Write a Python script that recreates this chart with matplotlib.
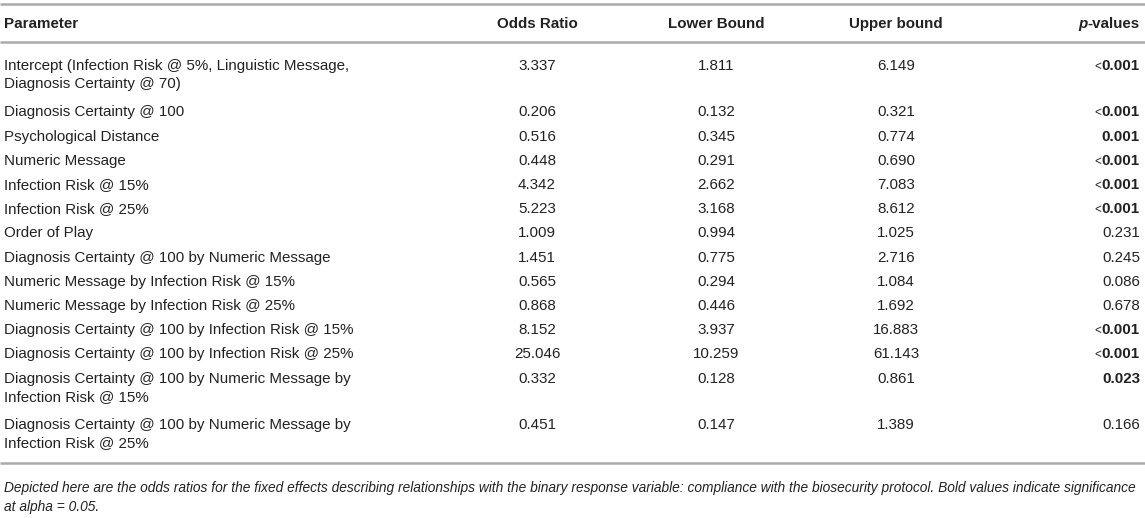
import matplotlib
matplotlib.use("Agg")
import matplotlib.pyplot as plt

plt.rcParams['font.family'] = ['Liberation Sans', 'DejaVu Sans']

# ---- data ----
params = [
    "Intercept (Infection Risk @ 5%, Linguistic Message,\nDiagnosis Certainty @ 70)",
    "Diagnosis Certainty @ 100",
    "Psychological Distance",
    "Numeric Message",
    "Infection Risk @ 15%",
    "Infection Risk @ 25%",
    "Order of Play",
    "Diagnosis Certainty @ 100 by Numeric Message",
    "Numeric Message by Infection Risk @ 15%",
    "Numeric Message by Infection Risk @ 25%",
    "Diagnosis Certainty @ 100 by Infection Risk @ 15%",
    "Diagnosis Certainty @ 100 by Infection Risk @ 25%",
    "Diagnosis Certainty @ 100 by Numeric Message by\nInfection Risk @ 15%",
    "Diagnosis Certainty @ 100 by Numeric Message by\nInfection Risk @ 25%",
]
odds = ["3.337", "0.206", "0.516", "0.448", "4.342", "5.223", "1.009",
        "1.451", "0.565", "0.868", "8.152", "25.046", "0.332", "0.451"]
lower = ["1.811", "0.132", "0.345", "0.291", "2.662", "3.168", "0.994",
         "0.775", "0.294", "0.446", "3.937", "10.259", "0.128", "0.147"]
upper = ["6.149", "0.321", "0.774", "0.690", "7.083", "8.612", "1.025",
         "2.716", "1.084", "1.692", "16.883", "61.143", "0.861", "1.389"]
pvals = ["<0.001", "<0.001", "0.001", "<0.001", "<0.001", "<0.001", "0.231",
         "0.245", "0.086", "0.678", "<0.001", "<0.001", "0.023", "0.166"]
significant = [True, True, True, True, True, True, False,
               False, False, False, True, True, True, False]
headers = ["Parameter", "Odds Ratio", "Lower Bound", "Upper bound", "p-values"]
footnote = ["Depicted here are the odds ratios for the fixed effects describing relationships with the binary response variable: "
            "compliance with the biosecurity protocol. Bold values indicate significance",
            "at alpha = 0.05."]

W, H = 1145, 518
fig = plt.figure(figsize=(W / 100, H / 100), dpi=100)
ax = fig.add_axes([0, 0, 1, 1])
ax.set_xlim(0, W)
ax.set_ylim(H, 0)
ax.axis('off')

TXT = '#222222'
LINE = '#ababab'
FS = 10.9
FS_NOTE = 9.9
CAP = 0.716 * FS * 100 / 72 / 2        # half cap height in px
CAP_NOTE = 0.716 * FS_NOTE * 100 / 72 / 2

col_x = [4, 537, 716, 896, 1140]

# rules
for y in (4, 42, 463):
    ax.plot([0, W], [y, y], color=LINE, lw=1.8, solid_capstyle='butt')

fig.canvas.draw()
r = fig.canvas.get_renderer()
inv = ax.transData.inverted()

def left_of(t):
    bb = t.get_window_extent(r)
    return inv.transform((bb.x0, 0))[0]

def txt(x, yc, s, **kw):
    return ax.text(x, yc + CAP, s, fontsize=kw.pop('fontsize', FS), color=TXT,
                   va='baseline', **kw)

# header
hy = 22.5
txt(col_x[0], hy, headers[0], fontweight='bold', ha='left')
for i in (1, 2, 3):
    txt(col_x[i], hy, headers[i], fontweight='bold', ha='center')
t = txt(col_x[4], hy, headers[4][1:], fontweight='bold', ha='right')
txt(left_of(t) - 0.3, hy, headers[4][0], style='italic', fontweight='bold', ha='right')

# rows
y = 64.5
for i, p in enumerate(params):
    lines = p.split("\n")
    for k, ln in enumerate(lines):
        txt(col_x[0], y + 18 * k, ln, ha='left')
    for c, vals in zip((1, 2, 3), (odds, lower, upper)):
        txt(col_x[c], y, vals[i], ha='center')
    pv = pvals[i]
    if significant[i]:
        if pv.startswith("<"):
            t = txt(col_x[4], y, pv[1:], fontweight='bold', ha='right')
            ax.text(left_of(t) - 0.3, y + CAP, "<", fontsize=FS - 2.5, color=TXT,
                    ha='right', va='baseline')
        else:
            txt(col_x[4], y, pv, fontweight='bold', ha='right')
    else:
        txt(col_x[4], y, pv, ha='right')
    y += 24.2 + 22.3 * (len(lines) - 1)

# footnote
for k, ln in enumerate(footnote):
    ax.text(4, 487 + 19 * k + CAP_NOTE, ln, fontsize=FS_NOTE, style='italic', color=TXT,
            ha='left', va='baseline')

fig.savefig("out.png", dpi=100)
